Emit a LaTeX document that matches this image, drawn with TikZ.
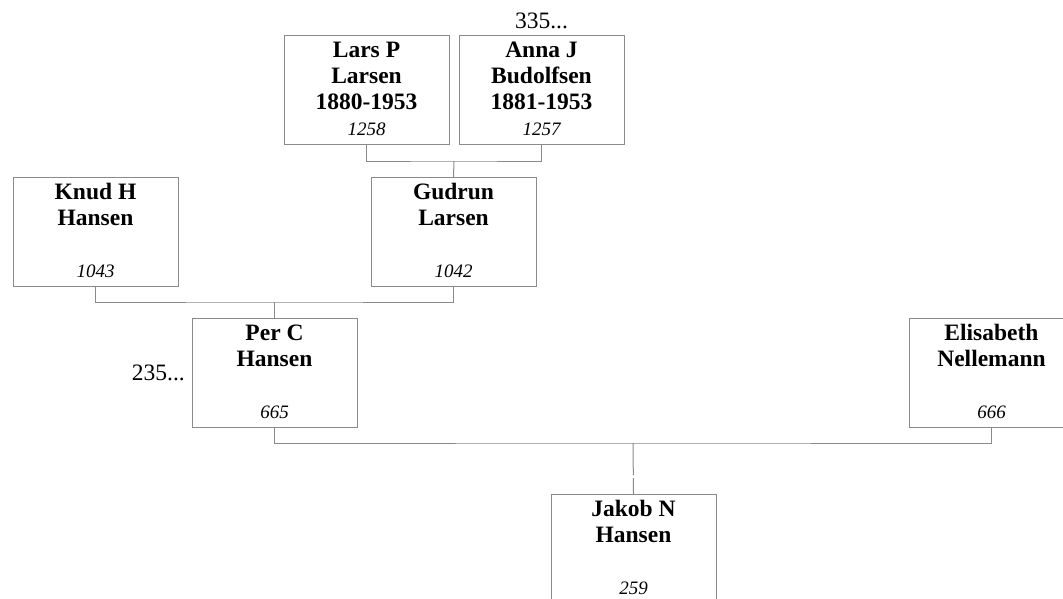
\documentclass[tikz,border=0pt]{standalone}
\usepackage{fontspec}
\setmainfont{Liberation Serif}
\usetikzlibrary{calc}
\definecolor{linegray}{RGB}{138,138,138}
\begin{document}
\begin{tikzpicture}[x=1pt,y=-1pt,
  person/.style={draw=linegray,line width=1pt,fill=white,rectangle,anchor=north west,
    minimum width=165pt,minimum height=109pt,inner sep=0pt,outer sep=0pt},
  pname/.style={anchor=north,inner sep=0pt,align=center,
    font=\fontsize{23.5}{26}\selectfont\bfseries},
  pnum/.style={anchor=base,inner sep=0pt,font=\fontsize{19}{22}\selectfont\itshape},
  more/.style={inner sep=0pt,font=\fontsize{23.5}{26}\selectfont},
  link/.style={draw=linegray,line width=1pt}]
\useasboundingbox (0,0) rectangle (1063,598);

\newcommand{\mkperson}[4]{%
  \node[person] (#1) at (#2) {};
  \node[pname] (#1-name) at ([yshift=-4pt]#1.north) {\rule{0pt}{18pt}#3};
  \node[pnum] (#1-num) at ([yshift=9pt]#1.south) {#4};
}

\mkperson{lars}{284,35}{Lars P\\Larsen\\1880-1953}{1258}
\mkperson{anna}{459,35}{Anna J\\Budolfsen\\1881-1953}{1257}
\mkperson{knud}{13,177}{Knud H\\Hansen}{1043}
\mkperson{gudrun}{371,177}{Gudrun\\Larsen}{1042}
\mkperson{per}{192,318}{Per C\\Hansen}{665}
\mkperson{elis}{909,318}{Elisabeth\\Nellemann}{666}
\mkperson{jakob}{551,494}{Jakob N\\Hansen}{259}

\node[more,anchor=base] (annamore) at ([yshift=7pt]anna.north) {335...};
\node[more,anchor=base east] (permore) at ($(per.west)+(-7,8)$) {235...};

\coordinate (j1) at ($(lars.south)!0.5!(anna.south)+(0,17)$);
\coordinate (j2) at ($(knud.south)!0.5!(gudrun.south)+(0,16)$);
\coordinate (j3) at ($(per.south)!0.5!(elis.south)+(0,16)$);

\draw[link] (lars.south) |- (j1) -| (anna.south);
\draw[link] (j1) -- (gudrun.north);
\draw[link] (knud.south) |- (j2) -| (gudrun.south);
\draw[link] (j2) -- (per.north);
\draw[link] (per.south) |- (j3) -| (elis.south);
\draw[link] (j3) -- ($(j3)!0.63!(jakob.north)$);
\draw[link] ($(j3)!0.69!(jakob.north)$) -- (jakob.north);
\end{tikzpicture}
\end{document}
